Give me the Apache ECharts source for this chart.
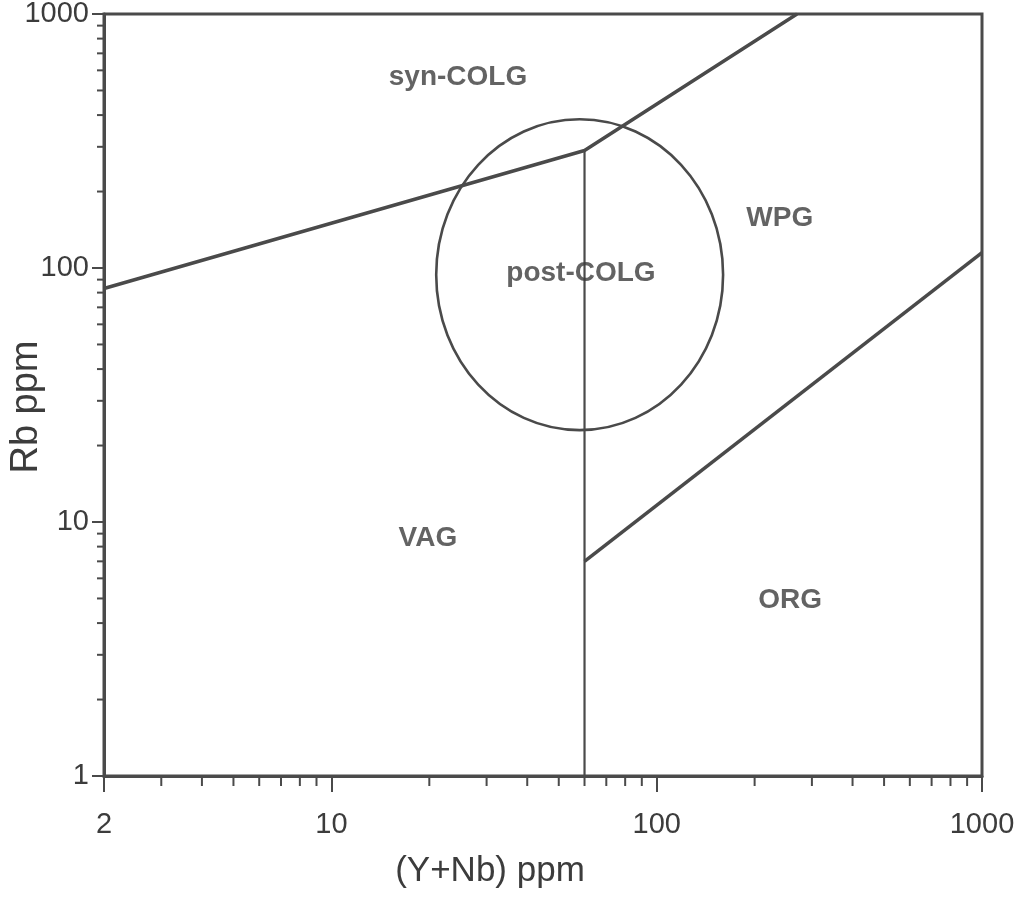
<!DOCTYPE html>
<html>
<head>
<meta charset="utf-8">
<script src="https://cdn.jsdelivr.net/npm/echarts@6/dist/echarts.min.js"></script>
<style>
html,body{margin:0;padding:0;background:#fff;}
#chart{width:1022px;height:900px;}
</style>
</head>
<body>
<div id="chart"></div>
<script>
// ---- data ----
const xTickLabels = [2, 10, 100, 1000];
const yTickLabels = [1, 10, 100, 1000];
const xMinorTicks = [3,4,5,6,7,8,9,20,30,40,50,60,70,80,90,200,300,400,500,600,700,800,900];
const yMinorTicks = [2,3,4,5,6,7,8,9,20,30,40,50,60,70,80,90,200,300,400,500,600,700,800,900];

// boundaries [Y+Nb, Rb]
const synColgVagLine = [[2, 83], [60, 290], [270, 1000]];
const vagOrgLine = [[60, 1], [60, 290]];
const wpgOrgLine = [[60, 7], [1000, 115]];
// post-COLG circle bounds: [xLeft, yBottom, xRight, yTop]
const postColgCircle = [[21, 23, 160, 385]];

const fieldNames = ['syn-COLG', 'WPG', 'post-COLG', 'VAG', 'ORG'];
const fieldX = [24.5, 239, 58.5, 19.8, 257];
const fieldY = [565, 157, 95.6, 8.65, 4.93];

// ---- styling ----
const ink = '#4a4a4a';
const textInk = '#3c3c3c';
const regular = "'Liberation Sans', Arial, sans-serif";

const chart = echarts.init(document.getElementById('chart'));

function lineSeries(data, width) {
  return {
    type: 'line', data: data, symbol: 'none', silent: true,
    lineStyle: { color: ink, width: width }, animation: false, z: 3
  };
}

chart.setOption({
  backgroundColor: '#ffffff',
  animation: false,
  grid: {
    left: 104, right: 40, top: 14, bottom: 124,
    show: true, borderColor: ink, borderWidth: 3,
    containLabel: false, outerBoundsMode: 'none'
  },
  xAxis: {
    type: 'log', logBase: 10, min: 2, max: 1000,
    name: '(Y+Nb) ppm', nameLocation: 'middle', nameGap: 78, nameMoveOverlap: false,
    nameTextStyle: { fontFamily: regular, fontSize: 35, color: textInk, padding: [0, 106, 0, 0] },
    axisLine: { show: true, lineStyle: { color: ink, width: 3 } },
    axisTick: { show: true, inside: false, length: 16, lineStyle: { color: ink, width: 2 } },
    minorTick: { show: false },
    splitLine: { show: false },
    axisLabel: {
      show: true, margin: 34, fontFamily: regular, fontSize: 29, color: textInk,
      showMinLabel: true, showMaxLabel: true,
      formatter: function (v) {
        const r = Math.round(v);
        return xTickLabels.indexOf(r) >= 0 ? String(r) : '';
      }
    }
  },
  yAxis: {
    type: 'log', logBase: 10, min: 1, max: 1000,
    name: 'Rb ppm', nameLocation: 'middle', nameGap: 58, nameMoveOverlap: false,
    nameTextStyle: { fontFamily: regular, fontSize: 38, color: textInk, padding: [0, 24, 0, 0] },
    axisLine: { show: true, lineStyle: { color: ink, width: 3 } },
    axisTick: { show: true, inside: false, length: 12, lineStyle: { color: ink, width: 2 } },
    minorTick: { show: false },
    splitLine: { show: false },
    axisLabel: {
      show: true, margin: 15, fontFamily: regular, fontSize: 29, color: textInk,
      showMinLabel: true, showMaxLabel: true,
      formatter: function (v) {
        const r = Math.round(v);
        return yTickLabels.indexOf(r) >= 0 ? String(r) : '';
      }
    }
  },
  series: [
    lineSeries(synColgVagLine, 3.5),
    lineSeries(vagOrgLine, 2.2),
    lineSeries(wpgOrgLine, 3.5),
    {
      type: 'custom', silent: true, clip: false, z: 3,
      data: postColgCircle,
      encode: { x: [0, 2], y: [1, 3] },
      renderItem: function (params, api) {
        const p1 = api.coord([api.value(0), api.value(1)]);
        const p2 = api.coord([api.value(2), api.value(3)]);
        return {
          type: 'ellipse',
          shape: {
            cx: (p1[0] + p2[0]) / 2, cy: (p1[1] + p2[1]) / 2,
            rx: Math.abs(p2[0] - p1[0]) / 2, ry: Math.abs(p1[1] - p2[1]) / 2
          },
          style: { fill: 'none', stroke: ink, lineWidth: 2.6 }
        };
      }
    },
    {
      // x-axis minor ticks
      type: 'custom', silent: true, clip: false, z: 4,
      data: xMinorTicks.map(function (v) { return [v, 1]; }),
      renderItem: function (params, api) {
        const p = api.coord([api.value(0), api.value(1)]);
        return {
          type: 'line',
          shape: { x1: p[0], y1: p[1], x2: p[0], y2: p[1] + 10 },
          style: { stroke: ink, lineWidth: 2 }
        };
      }
    },
    {
      // y-axis minor ticks
      type: 'custom', silent: true, clip: false, z: 4,
      data: yMinorTicks.map(function (v) { return [2, v]; }),
      renderItem: function (params, api) {
        const p = api.coord([api.value(0), api.value(1)]);
        return {
          type: 'line',
          shape: { x1: p[0], y1: p[1], x2: p[0] - 7, y2: p[1] },
          style: { stroke: ink, lineWidth: 2 }
        };
      }
    },
    {
      type: 'scatter', silent: true, z: 5,
      symbolSize: 1, itemStyle: { color: 'rgba(0,0,0,0)' },
      data: fieldNames.map(function (n, i) { return { name: n, value: [fieldX[i], fieldY[i]] }; }),
      label: {
        show: true, position: 'inside', formatter: '{b}',
        fontFamily: regular, fontWeight: 'bold', fontSize: 28, color: textInk
      }
    }
  ]
});
</script>
</body>
</html>
